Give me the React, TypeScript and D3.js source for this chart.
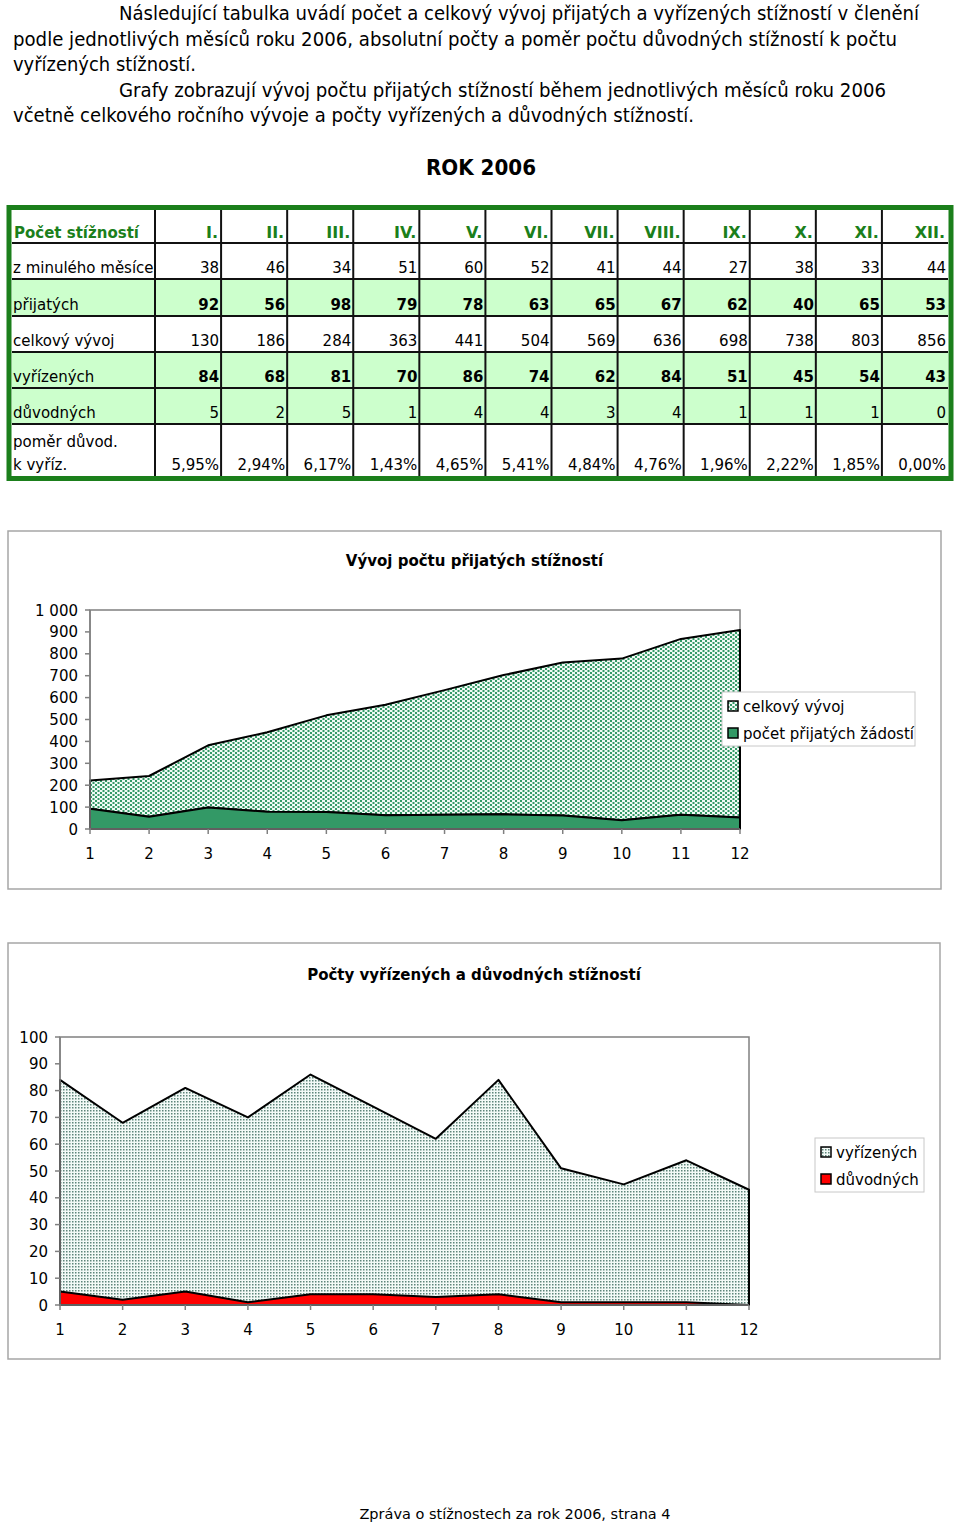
import React from 'react';
import * as d3 from 'd3';

// --- data ---
const months = ['I.', 'II.', 'III.', 'IV.', 'V.', 'VI.', 'VII.', 'VIII.', 'IX.', 'X.', 'XI.', 'XII.'];
const monthNums = [1, 2, 3, 4, 5, 6, 7, 8, 9, 10, 11, 12];
const zMinulehoMesice = [38, 46, 34, 51, 60, 52, 41, 44, 27, 38, 33, 44];
const prijatych = [92, 56, 98, 79, 78, 63, 65, 67, 62, 40, 65, 53];
const celkovyVyvoj = [130, 186, 284, 363, 441, 504, 569, 636, 698, 738, 803, 856];
const vyrizenych = [84, 68, 81, 70, 86, 74, 62, 84, 51, 45, 54, 43];
const duvodnych = [5, 2, 5, 1, 4, 4, 3, 4, 1, 1, 1, 0];
const pomer = ['5,95%', '2,94%', '6,17%', '1,43%', '4,65%', '5,41%', '4,84%', '4,76%', '1,96%', '2,22%', '1,85%', '0,00%'];

const paragraph = [
  { text: 'Následující tabulka uvádí počet a celkový vývoj přijatých a vyřízených stížností v členění', x: 119, w: 800 },
  { text: 'podle jednotlivých měsíců roku 2006, absolutní počty a poměr počtu důvodných stížností k počtu', x: 13, w: 884 },
  { text: 'vyřízených stížností.', x: 13, w: 183 },
  { text: 'Grafy zobrazují vývoj počtu přijatých stížností během jednotlivých měsíců roku 2006', x: 119, w: 767 },
  { text: 'včetně celkového ročního vývoje a počty vyřízených a důvodných stížností.', x: 13, w: 681 },
];

const FONT = "'DejaVu Sans', Verdana, sans-serif";
const COND = "'DejaVu Sans Condensed', 'Liberation Sans Narrow', 'DejaVu Sans', sans-serif";

const tableRows = [
  { label: ['z minulého měsíce'], values: zMinulehoMesice.map(String), bold: false, fill: false },
  { label: ['přijatých'], values: prijatych.map(String), bold: true, fill: true },
  { label: ['celkový vývoj'], values: celkovyVyvoj.map(String), bold: false, fill: false },
  { label: ['vyřízených'], values: vyrizenych.map(String), bold: true, fill: true },
  { label: ['důvodných'], values: duvodnych.map(String), bold: false, fill: true },
  { label: ['poměr důvod.', 'k vyříz.'], values: pomer, bold: false, fill: false },
];

const Table: React.FC = () => {
  const rowEdges = [210, 243, 279, 316, 352, 388, 424, 476];
  const x0 = 12;
  const x1 = 948;
  const col = d3.scaleBand<string>().domain(months).range([155, x1]).padding(0);
  const green = '#1b7f1b';
  return (
    <g fontFamily={FONT} fontSize={15}>
      {tableRows.map((r, i) =>
        r.fill ? (
          <rect key={'f' + i} x={x0} y={rowEdges[i + 1]} width={x1 - x0} height={rowEdges[i + 2] - rowEdges[i + 1]} fill="#ccffcc" />
        ) : null
      )}
      {/* grid */}
      {rowEdges.slice(1, -1).map((y) => (
        <line key={'h' + y} x1={x0} x2={x1} y1={y} y2={y} stroke="#111" strokeWidth={2} />
      ))}
      {[155, ...months.slice(1).map((m) => col(m) as number)].map((x) => (
        <line key={'v' + x} x1={x} x2={x} y1={rowEdges[0]} y2={rowEdges[rowEdges.length - 1]} stroke="#111" strokeWidth={2} />
      ))}
      {/* header */}
      <text x={14} y={238} fill={green} fontWeight="bold">Počet stížností</text>
      {months.map((m) => (
        <text key={m} x={(col(m) as number) + col.bandwidth() - 3} y={238} textAnchor="end" fill={green} fontWeight="bold" fontSize={16}>{m}</text>
      ))}
      {tableRows.map((r, i) => {
        const yb = rowEdges[i + 2] - 6;
        return (
          <g key={'r' + i}>
            {r.label.length === 1 ? (
              <text x={13} y={yb}>{r.label[0]}</text>
            ) : (
              <text x={13} y={yb}>
                <tspan x={13} y={yb - 23}>{r.label[0]}</tspan>
                <tspan x={13} y={yb}>{r.label[1]}</tspan>
              </text>
            )}
            {r.values.map((v, j) => (
              <text key={j} x={(col(months[j]) as number) + col.bandwidth() - 2} y={yb} textAnchor="end" fontWeight={r.bold ? 'bold' : 'normal'}>{v}</text>
            ))}
          </g>
        );
      })}
      {/* green outer border */}
      <rect x={9} y={207.5} width={942} height={271} fill="none" stroke={green} strokeWidth={5} />
    </g>
  );
};

const fmtThousands = (v: number) => d3.format(',')(v).replace(/,/g, ' ');

interface AreaChartProps {
  frame: { x: number; y: number; w: number; h: number };
  title: string;
  titleY: number;
  plot: { l: number; t: number; r: number; b: number };
  yMax: number;
  yStep: number;
  layers: { lo: number[]; hi: number[]; fill: string }[];
  legend: { x: number; y: number; w: number; h: number; items: { label: string; fill: string }[] };
}

const AreaChart: React.FC<AreaChartProps> = ({ frame, title, titleY, plot, yMax, yStep, layers, legend }) => {
  const x = d3.scalePoint<number>().domain(monthNums).range([plot.l, plot.r]);
  const y = d3.scaleLinear().domain([0, yMax]).range([plot.b, plot.t]);
  const ticks = d3.range(0, yMax + 1, yStep);
  const area = d3
    .area<number>()
    .x((d) => x(monthNums[d]) as number);
  return (
    <g fontFamily={FONT}>
      <rect x={frame.x} y={frame.y} width={frame.w} height={frame.h} fill="#fff" stroke="#a6a6a6" strokeWidth={1.5} />
      <text x={frame.x + frame.w / 2} y={titleY} textAnchor="middle" fontWeight="bold" fontSize={15}>{title}</text>
      <rect x={plot.l} y={plot.t} width={plot.r - plot.l} height={plot.b - plot.t} fill="#fff" stroke="#808080" strokeWidth={1.5} />
      {layers.map((ly, i) => {
        const gen = area.y0((d) => y(ly.lo[d])).y1((d) => y(ly.hi[d]));
        return <path key={i} d={gen(d3.range(monthNums.length)) || ''} fill={ly.fill} stroke="#000" strokeWidth={2} strokeLinejoin="round" />;
      })}
      <line x1={plot.l} x2={plot.l} y1={plot.t} y2={plot.b} stroke="#808080" strokeWidth={1.5} />
      <line x1={plot.l} x2={plot.r} y1={plot.b} y2={plot.b} stroke="#808080" strokeWidth={1.5} />
      {ticks.map((t) => (
        <g key={'y' + t}>
          <line x1={plot.l - 5} x2={plot.l} y1={y(t)} y2={y(t)} stroke="#808080" strokeWidth={1.5} />
          <text x={plot.l - 12} y={y(t) + 5.5} textAnchor="end" fontSize={15}>{fmtThousands(t)}</text>
        </g>
      ))}
      {monthNums.map((m) => (
        <g key={'x' + m}>
          <line x1={x(m)} x2={x(m)} y1={plot.b} y2={plot.b + 5} stroke="#808080" strokeWidth={1.5} />
          <text x={x(m)} y={plot.b + 30} textAnchor="middle" fontSize={15}>{m}</text>
        </g>
      ))}
      <rect x={legend.x} y={legend.y} width={legend.w} height={legend.h} fill="#fff" stroke="#c8c8c8" strokeWidth={1} />
      {legend.items.map((it, i) => {
        const cy = legend.y + 14 + i * 27;
        return (
          <g key={it.label}>
            <rect x={legend.x + 6} y={cy - 5} width={10} height={10} fill={it.fill} stroke="#000" strokeWidth={1.5} />
            <text x={legend.x + 21} y={cy + 6} fontSize={15}>{it.label}</text>
          </g>
        );
      })}
    </g>
  );
};

export default function App() {
  const zeros = monthNums.map(() => 0);
  const stackedTop = prijatych.map((v, i) => v + celkovyVyvoj[i]);
  return (
    <svg width={960} height={1526} style={{ position: 'absolute', left: 0, top: 0, background: '#fff' }}>
      <defs>
        <pattern id="dotsGreen" width={5} height={4} patternUnits="userSpaceOnUse">
          <rect width={5} height={4} fill="#f0faf5" />
          <rect x={0} y={0} width={2} height={2} fill="#339966" />
          <rect x={2.5} y={2} width={2} height={2} fill="#339966" />
        </pattern>
        <pattern id="dotsGray" width={3} height={3} patternUnits="userSpaceOnUse">
          <rect width={3} height={3} fill="#f3faf7" />
          <rect x={0} y={0} width={1.5} height={1.5} fill="#5d857a" />
        </pattern>
      </defs>
      <rect width={960} height={1526} fill="#fff" />
      <g fontFamily={COND} fontSize={20}>
        {paragraph.map((p, i) => (
          <text key={i} x={p.x} y={20 + i * 25.6} textLength={p.w} lengthAdjust="spacingAndGlyphs">{p.text}</text>
        ))}
      </g>
      <text x={481} y={175} textAnchor="middle" fontFamily={COND} fontWeight="bold" fontSize={22} textLength={110} lengthAdjust="spacingAndGlyphs">ROK  2006</text>
      <Table />
      <AreaChart
        frame={{ x: 8, y: 531, w: 933, h: 358 }}
        title="Vývoj počtu přijatých stížností"
        titleY={566}
        plot={{ l: 90, t: 610, r: 740, b: 829 }}
        yMax={1000}
        yStep={100}
        layers={[
          { lo: prijatych, hi: stackedTop, fill: 'url(#dotsGreen)' },
          { lo: zeros, hi: prijatych, fill: '#339966' },
        ]}
        legend={{ x: 722, y: 692, w: 193, h: 54, items: [
          { label: 'celkový vývoj', fill: 'url(#dotsGreen)' },
          { label: 'počet přijatých žádostí', fill: '#339966' },
        ] }}
      />
      <AreaChart
        frame={{ x: 8, y: 943, w: 932, h: 416 }}
        title="Počty vyřízených a důvodných stížností"
        titleY={980}
        plot={{ l: 60, t: 1037, r: 749, b: 1305 }}
        yMax={100}
        yStep={10}
        layers={[
          { lo: zeros, hi: vyrizenych, fill: 'url(#dotsGray)' },
          { lo: zeros, hi: duvodnych, fill: '#ff0000' },
        ]}
        legend={{ x: 815, y: 1138, w: 109, h: 54, items: [
          { label: 'vyřízených', fill: 'url(#dotsGray)' },
          { label: 'důvodných', fill: '#ff0000' },
        ] }}
      />
      <text x={515} y={1519} textAnchor="middle" fontFamily={FONT} fontSize={14.5}>Zpráva o stížnostech za rok 2006, strana 4</text>
    </svg>
  );
}
